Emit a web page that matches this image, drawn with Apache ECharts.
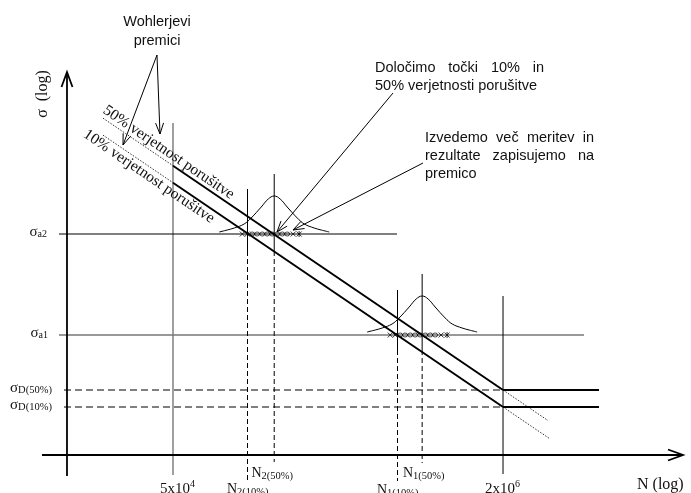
<!DOCTYPE html>
<html>
<head>
<meta charset="utf-8">
<script src="https://cdn.jsdelivr.net/npm/echarts@6/dist/echarts.min.js"></script>
<style>
    html, body { margin: 0; padding: 0; background: #fff; }
    #chart { width: 691px; height: 493px; }
</style>
</head>
<body>
<div id="chart"></div>
<script>
// x = log10(N), y = log(sigma) in schematic units (x axis sits at 0)
const xTicks = [
    { n: 5e4, main: '5x10', sup: '4', labelX: 4.6359 },
    { n: 2e6, main: '2x10', sup: '6', labelX: 6.2136 },
];
const AXIS_X = 4.1844;
const REF_X = Math.log10(5e4);
const KNEE_X = Math.log10(2e6);
const N2_10 = Math.log10(1.15e5);
const N2_50 = Math.log10(1.55e5);
const N1_10 = Math.log10(6.15e5);
const N1_50 = Math.log10(8.1e5);

const SIGMA_A2 = 55.25;
const SIGMA_A1 = 30;
const SIGMA_D50 = 16.25;
const SIGMA_D10 = 12;

// Wohler lines: dotted start, start of full line, knee, end of dotted extension
const wohler50 = [[4.3592, 84.21], [REF_X, 72.32], [KNEE_X, SIGMA_D50], [6.5194, 8.61]];
const wohler10 = [[4.3592, 79.96], [REF_X, 68.07], [KNEE_X, SIGMA_D10], [6.5291, 4.02]];

// vertical lines [x, top, bottom]
const probeSolid = [[N2_10, 66.5, 51], [N2_50, 70.25, 51], [N1_10, 41.25, 26.25], [N1_50, 45.25, 26.25], [KNEE_X, 39.75, -4.75]];
const probeDashed = [[N2_10, 51, -7], [N2_50, 51, -1.75], [N1_10, 26.25, -6.5], [N1_50, 26.25, -2]];
const refVertical = [[REF_X, 83, -5]];

// horizontal lines [y, from, to]
const levelBlack = [[SIGMA_A2, 4.1456, 5.7864]];
const levelGray = [[SIGMA_A1, 4.1456, 6.6941]];
const enduranceDashed = [[SIGMA_D50, 4.1699, KNEE_X], [SIGMA_D10, 4.1699, KNEE_X]];
const enduranceSolid = [[SIGMA_D50, KNEE_X, 6.767], [SIGMA_D10, KNEE_X, 6.767]];

// scatter of test results: bell shape and markers around the 50% point
const bellCenters = [[N2_50, SIGMA_A2 + 0.5], [N1_50, SIGMA_A1 + 0.75]];
const markerLevels = [[N2_50, SIGMA_A2], [N1_50, SIGMA_A1]];
const bellOffsets = [-0.267, -0.228, -0.194, -0.146, -0.112, -0.063, -0.029, 0, 0.029, 0.063, 0.112, 0.146, 0.194, 0.228, 0.267];
const bellHeights = [0, 0.5, 1, 2, 3.5, 6.25, 8.25, 9, 8.25, 6.25, 3.5, 2, 1, 0.5, 0];
const markerOffsets = [-0.155, -0.131, -0.107, -0.083, -0.058, -0.034, -0.010, 0.015, 0.039, 0.063, 0.092, 0.121];
const markerKinds = ['x', 'x', 'o', 'o', 'o', 'o', 'o', 'o', 'o', 'o', 'x', '*'];

// arrows [x1, y1, x2, y2]
const axisArrows = [[AXIS_X, -5.25, AXIS_X, 95.75], [4.0631, 0, 7.1747, 0]];
const noteArrows = [
    [4.6213, 100, 4.4563, 77.5],
    [4.6213, 100, 4.6359, 80.25],
    [5.767, 90.5, 5.2039, 55.75],
    [5.9126, 73, 5.2815, 56.25],
];

const sansNotes = [
    { x: 4.6213, y: 108.25, text: 'Wohlerjevi', align: 'center' },
    { x: 4.6213, y: 103.5, text: 'premici', align: 'center' },
    { x: 5.6796, y: 96.75, text: 'Določimo točki 10% in', justifyTo: 6.5 },
    { x: 5.6796, y: 92.25, text: '50% verjetnosti porušitve' },
    { x: 5.9223, y: 79.25, text: 'Izvedemo več meritev in', justifyTo: 6.7427 },
    { x: 5.9223, y: 74.75, text: 'rezultate zapisujemo na', justifyTo: 6.7427 },
    { x: 5.9223, y: 70.25, text: 'premico' },
];
const lineLabels = [
    { x: 4.3665, y: 86.5, text: '50% verjetnost porušitve', line: wohler50 },
    { x: 4.2708, y: 80.5, text: '10% verjetnost porušitve', line: wohler10 },
];
const sigmaLabels = [
    { x: 4.0024, y: SIGMA_A2 + 0.4, sub: 'a2', subSize: 10 },
    { x: 4.0073, y: SIGMA_A1 + 0.4, sub: 'a1', subSize: 10 },
    { x: 3.9077, y: SIGMA_D50 + 0.4, sub: 'D(50%)', subSize: 10.5 },
    { x: 3.9077, y: SIGMA_D10 + 0.4, sub: 'D(10%)', subSize: 10.5 },
];
const nLabels = [
    { x: 5.0801, y: -2.0, sub: '2(50%)' },
    { x: 4.9611, y: -6.0, sub: '2(10%)' },
    { x: 5.8155, y: -2.0, sub: '1(50%)' },
    { x: 5.6893, y: -6.25, sub: '1(10%)' },
];
const axisTitles = [
    { x: 4.0679, y: 90.25, text: 'σ  (log)', rotate: Math.PI / 2, align: 'center' },
    { x: 6.9514, y: -7.5, text: 'N (log)', rotate: 0, align: 'left' },
];

const SERIF = '"Liberation Serif", "Times New Roman", serif';
const SANS = '"Liberation Sans", Arial, sans-serif';
const INK = '#111';
const measureCtx = document.createElement('canvas').getContext('2d');

const chart = echarts.init(document.getElementById('chart'), null, { renderer: 'canvas' });

const lineSeries = (data, color, width, type, z) => ({
    type: 'line',
    data,
    symbol: 'none',
    silent: true,
    clip: false,
    z: z || 2,
    lineStyle: { color, width, type: type || 'solid', cap: 'butt' },
});

const vertical = ([x, top, bottom]) => [[x, top], [x, bottom]];
const horizontal = ([y, from, to]) => [[from, y], [to, y]];

const series = [];
refVertical.forEach((v) => series.push(lineSeries(vertical(v), '#777', 1.4)));
levelGray.forEach((h) => series.push(lineSeries(horizontal(h), '#777', 1.4)));
levelBlack.forEach((h) => series.push(lineSeries(horizontal(h), '#000', 1)));
probeSolid.forEach((v) => series.push(lineSeries(vertical(v), '#000', 1)));
probeDashed.forEach((v) => series.push(lineSeries(vertical(v), '#000', 1, [5, 3])));
enduranceDashed.forEach((h) => series.push(lineSeries(horizontal(h), '#000', 1, [7, 4])));
enduranceSolid.forEach((h) => series.push(lineSeries(horizontal(h), '#000', 2)));

[wohler50, wohler10].forEach((w) => {
    series.push(lineSeries([w[0], w[1]], '#000', 0.8, [1.5, 1.5]));
    series.push(lineSeries([w[1], w[2]], '#000', 2, 'solid', 3));
    series.push(lineSeries([w[2], w[3]], '#000', 0.8, [1.5, 1.5]));
});

bellCenters.forEach(([cx, cy]) => {
    series.push({
        ...lineSeries(bellOffsets.map((d, i) => [cx + d, cy + bellHeights[i]]), '#000', 1),
        smooth: 0.4,
    });
});

const markerData = [];
markerLevels.forEach(([cx, y]) => {
    markerOffsets.forEach((d, i) => markerData.push([cx + d, y, i]));
});

const seg = (x1, y1, x2, y2, w) => ({ type: 'line', shape: { x1, y1, x2, y2 }, style: { stroke: '#000', lineWidth: w } });

series.push({
    type: 'custom',
    silent: true,
    clip: false,
    z: 4,
    data: markerData,
    encode: { x: 0, y: 1 },
    renderItem: (params, api) => {
        const p = api.coord([api.value(0), api.value(1)]);
        const kind = markerKinds[api.value(2)];
        if (kind === 'o') {
            return { type: 'circle', x: p[0], y: p[1], scaleY: 0.8, shape: { cx: 0, cy: 0, r: 2.5 }, style: { fill: 'none', stroke: '#000', lineWidth: 0.8 } };
        }
        const r = 2.5;
        const children = [seg(p[0] - r, p[1] - r, p[0] + r, p[1] + r, 0.8), seg(p[0] - r, p[1] + r, p[0] + r, p[1] - r, 0.8)];
        if (kind === '*') children.push(seg(p[0], p[1] - r - 0.5, p[0], p[1] + r + 0.5, 0.8));
        return { type: 'group', children };
    },
});

function arrowShape(from, to, len, half, width) {
    const dx = to[0] - from[0];
    const dy = to[1] - from[1];
    const l = Math.hypot(dx, dy);
    const ux = dx / l;
    const uy = dy / l;
    const bx = to[0] - ux * len;
    const by = to[1] - uy * len;
    return {
        type: 'group',
        children: [
            seg(from[0], from[1], to[0], to[1], width),
            {
                type: 'polyline',
                shape: { points: [[bx - uy * half, by + ux * half], to, [bx + uy * half, by - ux * half]] },
                style: { stroke: '#000', fill: null, lineWidth: width },
            },
        ],
    };
}

const arrowSeries = (arrows, len, half, width) => ({
    type: 'custom',
    silent: true,
    clip: false,
    z: 4,
    data: arrows,
    encode: { x: [0, 2], y: [1, 3] },
    renderItem: (params, api) => {
        const a = arrows[params.dataIndex];
        return arrowShape(api.coord([a[0], a[1]]), api.coord([a[2], a[3]]), len, half, width);
    },
});
series.push(arrowSeries(axisArrows, 15, 5.5, 1.8));
series.push(arrowSeries(noteArrows, 11, 4, 1));

const textSeries = (items, build) => ({
    type: 'custom',
    silent: true,
    clip: false,
    z: 6,
    data: items.map((t) => [t.x, t.y]),
    encode: { x: 0, y: 1 },
    renderItem: (params, api) => {
        const t = items[params.dataIndex];
        return build(t, api.coord([t.x, t.y]), api);
    },
});

series.push(textSeries(sansNotes, (n, p, api) => {
    const font = `14.5px ${SANS}`;
    if (!n.justifyTo) {
        return { type: 'text', x: p[0], y: p[1], style: { text: n.text, font, fill: INK, align: n.align || 'left', verticalAlign: 'middle' } };
    }
    const right = api.coord([n.justifyTo, n.y])[0];
    const words = n.text.split(' ');
    measureCtx.font = font;
    const widths = words.map((w) => measureCtx.measureText(w).width);
    const gap = (right - p[0] - widths.reduce((a, b) => a + b, 0)) / (words.length - 1);
    let x = p[0];
    return {
        type: 'group',
        children: words.map((w, i) => {
            const el = { type: 'text', x, y: p[1], style: { text: w, font, fill: INK, align: 'left', verticalAlign: 'middle' } };
            x += widths[i] + gap;
            return el;
        }),
    };
}));

series.push(textSeries(lineLabels, (t, p, api) => {
    const a = api.coord(t.line[1]);
    const b = api.coord(t.line[2]);
    return {
        type: 'text', x: p[0], y: p[1],
        rotation: -Math.atan2(b[1] - a[1], b[0] - a[0]),
        style: { text: t.text, font: `15.5px ${SERIF}`, fill: INK, align: 'left', verticalAlign: 'middle' },
    };
}));

// subscripts/superscripts: equal token heights, shifted by padding
series.push(textSeries(sigmaLabels, (t, p) => ({
    type: 'text', x: p[0], y: p[1],
    style: {
        text: `{s|σ}{sub|${t.sub}}`, align: 'left', verticalAlign: 'middle',
        rich: {
            s: { fontFamily: SERIF, fontSize: 15, lineHeight: 19, fill: INK },
            sub: { fontFamily: SERIF, fontSize: t.subSize, lineHeight: 15, padding: [4, 0, 0, 0], fill: INK },
        },
    },
})));

series.push(textSeries(nLabels, (t, p) => ({
    type: 'text', x: p[0], y: p[1],
    style: {
        text: `{n|N}{sub|${t.sub}}`, align: 'left', verticalAlign: 'top',
        rich: {
            n: { fontFamily: SERIF, fontSize: 14, lineHeight: 20, fill: INK },
            sub: { fontFamily: SERIF, fontSize: 10.5, lineHeight: 14, padding: [6, 0, 0, 0], fill: INK },
        },
    },
})));

const tickItems = xTicks.map((t) => ({ ...t, x: t.labelX, y: -5.6 }));
series.push(textSeries(tickItems, (t, p) => ({
    type: 'text', x: p[0], y: p[1],
    style: {
        text: `{b|${t.main}}{sup|${t.sup}}`, align: 'left', verticalAlign: 'top',
        rich: {
            b: { fontFamily: SERIF, fontSize: 15, lineHeight: 24, fill: INK },
            sup: { fontFamily: SERIF, fontSize: 10, lineHeight: 14, padding: [0, 0, 10, 0], fill: INK },
        },
    },
})));

series.push(textSeries(axisTitles, (t, p) => ({
    type: 'text', x: p[0], y: p[1], rotation: t.rotate,
    style: { text: t.text, font: `16px ${SERIF}`, fill: INK, align: t.align, verticalAlign: 'middle' },
})));

chart.setOption({
    backgroundColor: '#fff',
    animation: false,
    grid: { left: 42, right: 8, top: 55, bottom: 8 },
    xAxis: { type: 'value', min: 4.0631, max: 7.1747, show: false },
    yAxis: { type: 'value', min: -7.5, max: 100, show: false },
    series,
});

window.addEventListener('resize', () => chart.resize());
</script>
</body>
</html>
